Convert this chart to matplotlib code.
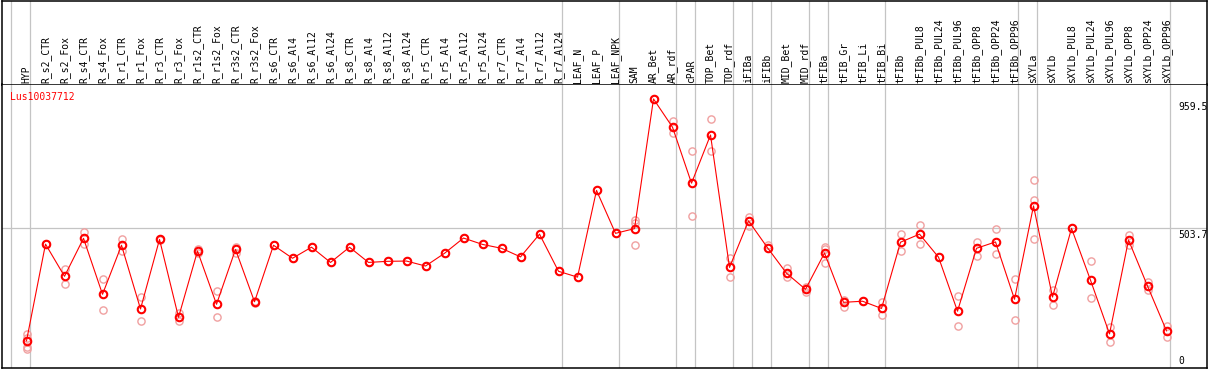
import matplotlib
matplotlib.use("Agg")
import matplotlib.pyplot as plt
import numpy as np

# ---------------- data ----------------
groups = [
    ["HYP"],
    ["R_s2_CTR", "R_s2_Fox", "R_s4_CTR", "R_s4_Fox", "R_r1_CTR", "R_r1_Fox",
     "R_r3_CTR", "R_r3_Fox", "R_r1s2_CTR", "R_r1s2_Fox", "R_r3s2_CTR", "R_r3s2_Fox",
     "R_s6_CTR", "R_s6_Al4", "R_s6_Al12", "R_s6_Al24", "R_s8_CTR", "R_s8_Al4",
     "R_s8_Al12", "R_s8_Al24", "R_r5_CTR", "R_r5_Al4", "R_r5_Al12", "R_r5_Al24",
     "R_r7_CTR", "R_r7_Al4", "R_r7_Al12", "R_r7_Al24"],
    ["LEAF_N", "LEAF_P", "LEAF_NPK"],
    ["SAM", "AR_Bet", "AR_rdf"],
    ["cPAR"],
    ["TOP_Bet", "TOP_rdf"],
    ["iFIBa"],
    ["iFIBb"],
    ["MID_Bet", "MID_rdf"],
    ["tFIBa"],
    ["tFIB_Gr", "tFIB_Li", "tFIB_Bi"],
    ["tFIBb", "tFIBb_PUL8", "tFIBb_PUL24", "tFIBb_PUL96", "tFIBb_OPP8",
     "tFIBb_OPP24", "tFIBb_OPP96"],
    ["sXYLa"],
    ["sXYLb", "sXYLb_PUL8", "sXYLb_PUL24", "sXYLb_PUL96", "sXYLb_OPP8",
     "sXYLb_OPP24", "sXYLb_OPP96"],
]
categories = [c for g in groups for c in g]

means = [98, 447, 331, 468, 266, 443, 213, 464, 183, 422, 230, 428, 239,
         443, 396, 436, 381, 436, 381, 385, 386, 368, 414, 469, 446, 432, 401, 483, 349,
         328, 641, 486,
         503, 971, 869,
         667,
         841, 363,
         531,
         434,
         342, 284,
         415,
         237, 241, 215,
         454, 483, 400, 205, 432, 455, 248,
         585,
         256, 504, 317, 123, 462, 296, 134]

replicates = [
    [123, 108, 77, 69], [449, 446], [357, 302], [490, 446], [322, 208], [466, 423],
    [255, 169], [466, 462], [197, 169], [431, 414], [279, 183], [438, 416], [242, 236],
    [443], [396], [436], [381], [436], [381], [385], [386], [368], [414], [469], [446],
    [432], [401], [483], [349],
    [328], [641], [486],
    [534, 524, 444], [971], [890, 847],
    [782, 547],
    [898, 782], [396, 330],
    [546, 514],
    [444, 432],
    [360, 330], [293, 275],
    [438, 429, 378],
    [245, 221], [241], [237, 192],
    [483, 421], [515, 446], [400], [259, 150], [455, 405], [501, 410], [321, 172],
    [677, 605, 464],
    [282, 226], [504], [386, 252], [149, 93], [481, 444], [311, 282], [152, 111],
]

gene = "Lus10037712"
ref_levels = [959.5, 503.7, 0]
ref_labels = ["959.5", "503.7", "0"]

# ---------------- layout ----------------
W, H = 1209, 370
fig = plt.figure(figsize=(W / 100, H / 100), dpi=100)
fig.patch.set_facecolor("white")

left_px, right_px = 2, 1207
head_top, head_bot, plot_bot = 0.5, 84.5, 368
x0 = -1.29
x1 = x0 + (right_px - left_px) / 19.0
y_per_px = 3.609
ymax = (plot_bot - head_bot) * y_per_px

ax_head = fig.add_axes([left_px / W, (H - head_bot) / H,
                        (right_px - left_px) / W, (head_bot - head_top) / H])
ax = fig.add_axes([left_px / W, (H - plot_bot) / H,
                   (right_px - left_px) / W, (plot_bot - head_bot) / H],
                  sharex=ax_head)

for a in (ax, ax_head):
    a.set_xlim(x0, x1)
    a.set_xticks([])
    a.set_yticks([])
    for s in a.spines.values():
        s.set_color("black")
        s.set_linewidth(1.1)
ax.spines["top"].set_visible(False)
ax.set_ylim(0, ymax)
ax_head.set_ylim(0, 1)

mono = "DejaVu Sans Mono"
xs = np.arange(len(categories))

# group boundary lines
bounds = [-0.8]
idx = -1
for g in groups:
    idx += len(g)
    bounds.append(idx + 0.2)
for b in bounds:
    ax.axvline(b, color="#c4c4c4", lw=0.9, zorder=1)
    ax_head.axvline(b, color="#c4c4c4", lw=0.9, zorder=1)

# reference horizontal line
ax.axhline(ref_levels[1], color="#c4c4c4", lw=0.9, zorder=1)

# category labels
for x, c in zip(xs, categories):
    ax_head.text(x, 0.015, c, rotation=90, ha="center", va="bottom",
                 fontsize=7, family=mono, color="black")

# replicates
for x, reps in zip(xs, replicates):
    ax.plot([x] * len(reps), reps, linestyle="none", marker="o", markersize=5.2,
            mfc="none", mec="#f0a0a0", mew=1.0, zorder=2)

# mean line
ax.plot(xs, means, color="red", lw=0.8, zorder=3)
ax.plot(xs, means, linestyle="none", marker="o", markersize=5.4, mfc="none",
        mec="red", mew=1.5, zorder=4)

# value labels on right
lab_x = (1178 - left_px) / (right_px - left_px)
ax.text(lab_x, ref_levels[0], ref_labels[0], transform=ax.get_yaxis_transform(),
        ha="left", va="top", fontsize=7, family=mono, color="black")
ax.text(lab_x, ref_levels[1] - 4, ref_labels[1], transform=ax.get_yaxis_transform(),
        ha="left", va="top", fontsize=7, family=mono, color="black")
ax.text(lab_x, ref_levels[2] + 6, ref_labels[2], transform=ax.get_yaxis_transform(),
        ha="left", va="bottom", fontsize=7, family=mono, color="black")

# gene label
fig.text(10 / W, (H - 97) / H, gene, ha="left", va="center", fontsize=7,
         family=mono, color="red")

fig.savefig("out.png", dpi=100)
